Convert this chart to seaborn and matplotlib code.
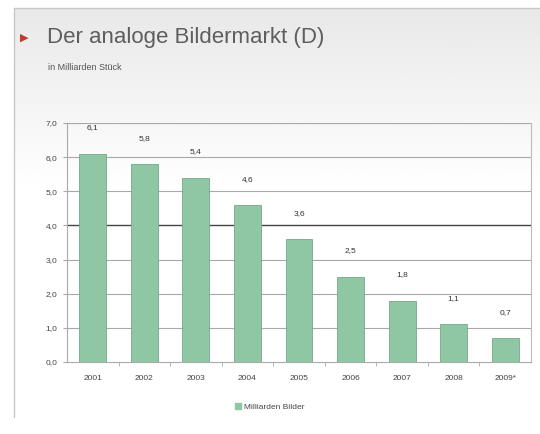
import matplotlib
matplotlib.use("Agg")
import matplotlib.pyplot as plt
import matplotlib.patches as mpatches
import numpy as np
import pandas as pd
import seaborn as sns

YEARS = ["2001", "2002", "2003", "2004", "2005", "2006", "2007", "2008", "2009*"]
VALUES = [6.1, 5.8, 5.4, 4.6, 3.6, 2.5, 1.8, 1.1, 0.7]
SERIES = "Milliarden Bilder"
TITLE = "Der analoge Bildermarkt (D)"
SUBTITLE = "in Milliarden Stück"

sns.set_style("white")
plt.rcParams["font.family"] = ["Liberation Sans", "DejaVu Sans"]

BAR = "#8fc6a4"
TXT = "#444444"

fig = plt.figure(figsize=(5.4, 4.34), dpi=100)

# background panel: light grey at the top fading to white
bg = fig.add_axes([14 / 540, 0, 1 - 14 / 540, 1 - 8 / 434], zorder=-5)
grad = np.clip(np.linspace(0.91, 1.12, 256), 0, 1).reshape(-1, 1)
bg.imshow(grad, aspect="auto", cmap="gray", vmin=0, vmax=1, extent=[0, 1, 0, 1])
bg.set_axis_off()
fig.add_artist(plt.Line2D([14 / 540, 14 / 540], [0.04, 1 - 8 / 434], color="#c8c8c8", lw=1))
fig.add_artist(plt.Line2D([14 / 540, 1], [1 - 8 / 434] * 2, color="#c8c8c8", lw=1))

# title
fig.text(20 / 540, 1 - 38 / 434, "\u25B6", color="#c0392b", fontsize=8, va="center",
         family="DejaVu Sans")
fig.text(47 / 540, 1 - 38 / 434, TITLE, color="#5e5e5e", fontsize=16, va="center")
fig.text(48 / 540, 1 - 67 / 434, SUBTITLE, color="#555555", fontsize=6.5, va="center")

df = pd.DataFrame({"Jahr": YEARS, "Wert": VALUES})
ax = fig.add_axes([67 / 540, 1 - 362 / 434, 464 / 540, 239 / 434])
ax.patch.set_alpha(0)
sns.barplot(data=df, x="Jahr", y="Wert", color=BAR, width=0.52, saturation=1,
            edgecolor="#72aa88", linewidth=0.6, ax=ax, zorder=3)

for i, v in enumerate(VALUES):
    ax.annotate(f"{v:.1f}".replace(".", ","), (i, v), xytext=(0, 16),
                textcoords="offset points", ha="center", va="bottom",
                fontsize=6, color="#333333")

ax.set_ylim(0, 7)
ax.set_xlim(-0.5, len(YEARS) - 0.5)
ax.set_yticks(range(0, 8))
ax.set_yticklabels([f"{t},0" for t in range(0, 8)], fontsize=6, color=TXT)
ax.set_xticks(range(len(YEARS)))
ax.set_xticklabels(YEARS, fontsize=6, color=TXT)
ax.set_xticks(np.arange(0.5, len(YEARS) - 0.5, 1), minor=True)
ax.tick_params(axis="x", which="major", length=0, pad=9)
ax.tick_params(axis="x", which="minor", length=3, color="#aaaaaa", bottom=True)
ax.tick_params(axis="y", length=3, color="#aaaaaa", pad=4, left=True)
ax.set_xlabel("")
ax.set_ylabel("")
for y in range(1, 8):
    ax.axhline(y, color="#444444" if y == 4 else "#a8a8a8",
               lw=1.0 if y == 4 else 0.8, zorder=1)
ax.spines["top"].set_visible(False)
ax.spines["left"].set_color("#aaaaaa")
ax.spines["bottom"].set_color("#aaaaaa")
ax.spines["right"].set_color("#bbbbbb")

handle = mpatches.Patch(color=BAR, label=SERIES)
fig.legend(handles=[handle], loc="center", bbox_to_anchor=(270 / 540, 1 - 407 / 434),
           frameon=False, fontsize=6, handlelength=0.7, handleheight=0.7,
           handletextpad=0.4, labelcolor=TXT)

fig.savefig("out.png", dpi=100)
